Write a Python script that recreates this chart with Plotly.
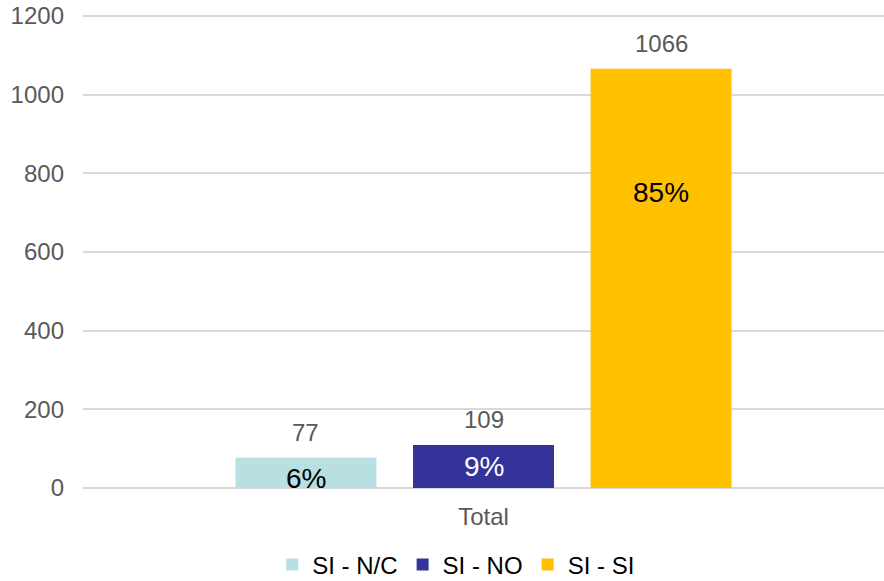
import plotly.graph_objects as go

categories = ["Total"]
series_names = ["SI - N/C", "SI - NO", "SI - SI"]
series_values = [77, 109, 1066]
percent_labels = ["6%", "9%", "85%"]
tick_vals = [0, 200, 400, 600, 800, 1000, 1200]

colors = ["#B8DFE1", "#333399", "#FFC000"]
pct_colors = ["#000000", "#FFFFFF", "#000000"]
pct_frac = [0.30, 0.50, 0.705]

FONT = "Liberation Sans, Arial, sans-serif"

fig = go.Figure()
for name, val, col in zip(series_names, series_values, colors):
    fig.add_trace(go.Bar(
        x=categories, y=[val], name=name, marker=dict(color=col, line=dict(width=0)),
        textposition="none", hoverinfo="name+y",
    ))

fig.update_layout(
    width=884, height=581,
    margin=dict(l=83, r=0, t=14, b=93, autoexpand=False),
    paper_bgcolor="white", plot_bgcolor="white",
    barmode="group", bargap=0.335, bargroupgap=0.206,
    font=dict(family=FONT, size=24, color="#595959"),
    showlegend=True,
    legend=dict(orientation="h", x=0.466, xanchor="center", y=-0.115, yanchor="top",
                font=dict(size=24, color="#000000"), traceorder="normal", itemwidth=30),
    xaxis=dict(showgrid=False, showline=False, ticks="", automargin=False,
               ticklabelstandoff=12, tickfont=dict(size=24, color="#595959")),
    yaxis=dict(range=[0, 1205], tickvals=tick_vals, showgrid=True, gridcolor="#D9D9D9",
               gridwidth=1.5, zeroline=True, zerolinecolor="#D9D9D9", zerolinewidth=1.5,
               showline=False, ticks="", ticklabelstandoff=18, automargin=False,
               ticklabeloverflow="allow",
               tickfont=dict(size=24, color="#595959")),
)

# value labels above the bars and percent labels inside the bars
n = len(series_names)
group_w = 1 - 0.335
slot = group_w / n
for i, (val, pct, pcol, frac) in enumerate(zip(series_values, percent_labels, pct_colors, pct_frac)):
    xoff = -group_w / 2 + slot * (i + 0.5)
    fig.add_annotation(x=xoff, y=val, xref="x", yref="y", text=str(val), showarrow=False,
                       yanchor="bottom", yshift=10, font=dict(size=24, color="#595959"))
    fig.add_annotation(x=xoff, y=val * frac, xref="x", yref="y", text=pct, showarrow=False,
                       yanchor="middle", font=dict(size=28, color=pcol))

fig.write_html("out.html", config={"displayModeBar": False},
               post_script="document.body.style.margin='0px';")
